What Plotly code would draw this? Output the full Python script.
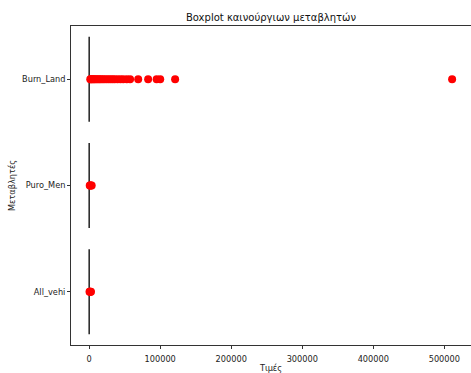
import plotly.graph_objects as go

# Variables shown on the y axis (top to bottom)
variables = ["Burn_Land", "Puro_Men", "All_vehi"]

# Box statistics per variable (quartiles collapse near zero)
q1_vals = [0, 0, 0]
median_vals = [0, 0, 0]
q3_vals = [0, 0, 0]
lower_fence = [0, 0, 0]
upper_fence = [0, 0, 0]

# Outliers per variable
burn_land_outliers = [1500, 2500, 3500, 5000, 6500, 8000, 10000, 12000, 14000, 16000,
                      18500, 21000, 24000, 27000, 30000, 33000, 36000, 40000, 44000,
                      48000, 53000, 57600, 69000, 83000, 95000, 100000, 121000, 511000]
puro_men_outliers = [800, 1500, 2500, 3500]
all_vehi_outliers = [500, 1000, 1800, 2500]

x_ticks = [0, 100000, 200000, 300000, 400000, 500000]

font_family = "DejaVu Sans"
axis_color = "#333333"

fig = go.Figure()

fig.add_trace(go.Box(
    y=variables,
    q1=q1_vals,
    median=median_vals,
    q3=q3_vals,
    lowerfence=lower_fence,
    upperfence=upper_fence,
    orientation="h",
    width=0.8,
    boxpoints=False,
    line=dict(color="#222222", width=1.5),
    fillcolor="rgba(0,0,0,0)",
    showlegend=False,
    hoverinfo="skip",
))

outlier_sets = [burn_land_outliers, puro_men_outliers, all_vehi_outliers]
for name, vals in zip(variables, outlier_sets):
    fig.add_trace(go.Scatter(
        x=vals,
        y=[name] * len(vals),
        mode="markers",
        marker=dict(color="red", size=8, line=dict(width=0)),
        showlegend=False,
    ))

fig.update_layout(
    width=471,
    height=373,
    margin=dict(l=71, r=0, t=26, b=28),
    paper_bgcolor="white",
    plot_bgcolor="white",
    font=dict(family=font_family, size=8.2, color="#222222"),
    title=dict(
        text="Boxplot καινούργιων μεταβλητών",
        x=271 / 471,
        xanchor="center",
        y=1 - 17 / 373,
        yanchor="middle",
        yref="container",
        xref="container",
        font=dict(size=10, color="#111111"),
    ),
)

fig.update_xaxes(
    range=[-25600, 537600],
    tickvals=x_ticks,
    tickformat="d",
    showgrid=False,
    zeroline=False,
    showline=True,
    linecolor=axis_color,
    linewidth=1,
    mirror=True,
    ticks="outside",
    ticklen=3,
    tickcolor=axis_color,
    ticklabelstandoff=3,
    title=dict(text="Τιμές", standoff=3, font=dict(size=8.2)),
)

fig.update_yaxes(
    type="category",
    categoryorder="array",
    categoryarray=variables,
    range=[2.5, -0.5],
    showgrid=False,
    zeroline=False,
    showline=True,
    linecolor=axis_color,
    linewidth=1,
    mirror=True,
    ticks="outside",
    ticklen=3,
    tickcolor=axis_color,
    title=dict(text="Μεταβλητές", standoff=5, font=dict(size=8.2)),
)

fig.write_html("out.html")
